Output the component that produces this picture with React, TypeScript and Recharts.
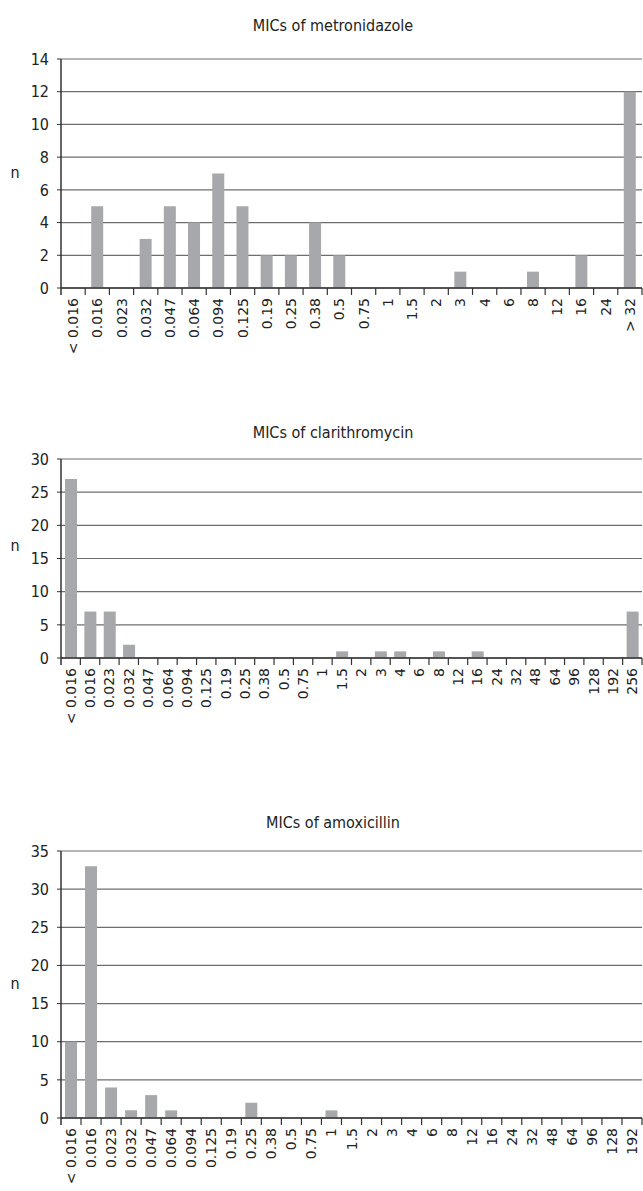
import React from 'react';
import { BarChart, Bar, XAxis, YAxis, CartesianGrid } from 'recharts';

const metroCats = ['< 0.016', '0.016', '0.023', '0.032', '0.047', '0.064', '0.094', '0.125', '0.19', '0.25', '0.38', '0.5', '0.75', '1', '1.5', '2', '3', '4', '6', '8', '12', '16', '24', '> 32'];
const metroValues = [0, 5, 0, 3, 5, 4, 7, 5, 2, 2, 4, 2, 0, 0, 0, 0, 1, 0, 0, 1, 0, 2, 0, 12];
const metroTicks = [0, 2, 4, 6, 8, 10, 12, 14];

const clariCats = ['< 0.016', '0.016', '0.023', '0.032', '0.047', '0.064', '0.094', '0.125', '0.19', '0.25', '0.38', '0.5', '0.75', '1', '1.5', '2', '3', '4', '6', '8', '12', '16', '24', '32', '48', '64', '96', '128', '192', '256'];
const clariValues = [27, 7, 7, 2, 0, 0, 0, 0, 0, 0, 0, 0, 0, 0, 1, 0, 1, 1, 0, 1, 0, 1, 0, 0, 0, 0, 0, 0, 0, 7];
const clariTicks = [0, 5, 10, 15, 20, 25, 30];

const amoxCats = ['< 0.016', '0.016', '0.023', '0.032', '0.047', '0.064', '0.094', '0.125', '0.19', '0.25', '0.38', '0.5', '0.75', '1', '1.5', '2', '3', '4', '6', '8', '12', '16', '24', '32', '48', '64', '96', '128', '192'];
const amoxValues = [10, 33, 4, 1, 3, 1, 0, 0, 0, 2, 0, 0, 0, 1, 0, 0, 0, 0, 0, 0, 0, 0, 0, 0, 0, 0, 0, 0, 0];
const amoxTicks = [0, 5, 10, 15, 20, 25, 30, 35];

const BAR = '#a7a8ac';
const GRID = '#6e6e6e';
const AXIS = '#333333';
const TITLE_FONT = "'DejaVu Sans Condensed', 'DejaVu Sans', sans-serif";
const TICK_FONT = "'DejaVu Sans', Verdana, sans-serif";

const XTick = (props: any) => {
  const { x, y, payload, index, visibleTicksCount } = props;
  const half = payload && typeof payload.offset === 'number' ? payload.offset : 0;
  const isLast = index === visibleTicksCount - 1;
  return (
    <g transform={`translate(${x},${y})`}>
      {half > 0 && (
        <line x1={-half} x2={-half} y1={0} y2={7} stroke={AXIS} strokeWidth={index === 0 ? 1.5 : 1.2} />
      )}
      {half > 0 && isLast && (
        <line x1={half} x2={half} y1={0} y2={7} stroke={AXIS} strokeWidth={1.2} />
      )}
      <text
        transform="rotate(-90)"
        x={-10}
        y={0}
        textAnchor="end"
        dominantBaseline="central"
        fontFamily={TICK_FONT}
        fontSize={14}
        fill="#222"
      >
        {payload.value}
      </text>
    </g>
  );
};

type ChartProps = {
  cats: string[];
  values: number[];
  ticks: number[];
  title: string;
  top: number;
  height: number;
  plotTop: number;
  plotBottom: number;
  titleY: number;
  nY: number;
};

const MicChart = ({ cats, values, ticks, title, top, height, plotTop, plotBottom, titleY, nY }: ChartProps) => {
  const data = cats.map((c, i) => ({ cat: c, n: values[i] }));
  return (
    <div style={{ position: 'absolute', left: 0, top, width: 643, height }}>
      <div
        style={{
          position: 'absolute',
          left: 333,
          top: titleY - top,
          transform: 'translate(-50%, -50%)',
          fontFamily: TITLE_FONT,
          fontSize: 16,
          color: '#222',
          whiteSpace: 'nowrap',
        }}
      >
        {title}
      </div>
      <div
        style={{
          position: 'absolute',
          left: 15,
          top: nY - top,
          transform: 'translate(-50%, -50%)',
          fontFamily: TITLE_FONT,
          fontSize: 16,
          color: '#222',
        }}
      >
        n
      </div>
      <BarChart
        width={643}
        height={height}
        data={data}
        margin={{ top: plotTop - top, right: 1, left: 0, bottom: 0 }}
        barCategoryGap={0}
      >
        <CartesianGrid vertical={false} stroke={GRID} strokeWidth={1.2} />
        <XAxis
          dataKey="cat"
          interval={0}
          height={top + height - plotBottom}
          axisLine={{ stroke: AXIS, strokeWidth: 1.5 }}
          tickLine={false}
          tickSize={0}
          tickMargin={0}
          tick={<XTick />}
        />
        <YAxis
          width={61}
          domain={[ticks[0], ticks[ticks.length - 1]]}
          ticks={ticks}
          interval={0}
          tickSize={4}
          tickMargin={8}
          tickLine={{ stroke: AXIS }}
          axisLine={{ stroke: AXIS, strokeWidth: 1.5 }}
          tick={{ fontFamily: TITLE_FONT, fontSize: 16, fill: '#222' }}
        />
        <YAxis
          yAxisId="r"
          orientation="right"
          width={0}
          tick={false}
          tickLine={false}
          axisLine={{ stroke: GRID }}
        />
        <Bar dataKey="n" fill={BAR} barSize={12} isAnimationActive={false} />
      </BarChart>
    </div>
  );
};

export default function App() {
  return (
    <div style={{ position: 'absolute', left: 0, top: 0, width: 643, height: 1191, background: '#fff' }}>
      <MicChart
        cats={metroCats}
        values={metroValues}
        ticks={metroTicks}
        title="MICs of metronidazole"
        top={0}
        height={370}
        plotTop={59}
        plotBottom={288}
        titleY={25}
        nY={172}
      />
      <MicChart
        cats={clariCats}
        values={clariValues}
        ticks={clariTicks}
        title="MICs of clarithromycin"
        top={380}
        height={385}
        plotTop={459}
        plotBottom={658}
        titleY={432}
        nY={545}
      />
      <MicChart
        cats={amoxCats}
        values={amoxValues}
        ticks={amoxTicks}
        title="MICs of amoxicillin"
        top={780}
        height={411}
        plotTop={851}
        plotBottom={1118}
        titleY={822}
        nY={983}
      />
    </div>
  );
}
